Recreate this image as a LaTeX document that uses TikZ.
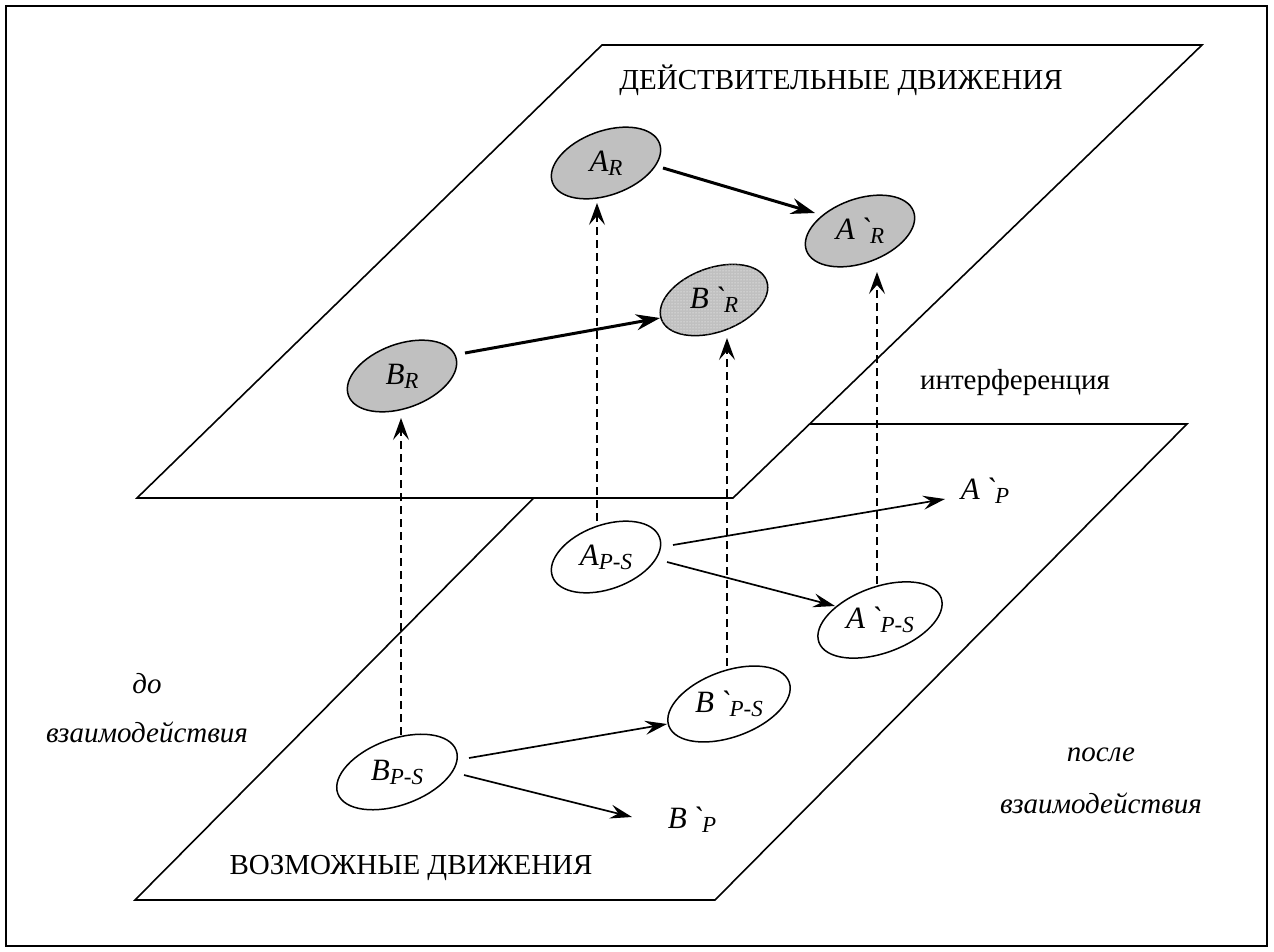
\documentclass[tikz,border=0pt]{standalone}
\usepackage{fontspec}
\setmainfont{Liberation Serif}
\newfontfamily\lblfont{Liberation Serif}
\usetikzlibrary{arrows.meta,shapes.geometric,patterns}
\definecolor{silver}{RGB}{192,192,192}
\newcommand{\grv}{\char"60}
\newcommand{\sbs}[1]{\raisebox{-4pt}{\fontsize{23}{23}\selectfont #1}}
\begin{document}
\begin{tikzpicture}[x=1pt,y=-1pt,
  plane/.style={draw, line width=1.6pt, fill=white, line join=miter},
  ell/.style={ellipse, draw, line width=1.5pt, rotate=20, inner sep=0pt, minimum width=114pt, minimum height=64pt, fill=white},
  real/.style={ell, fill=silver},
  lab/.style={font=\fontsize{31}{31}\selectfont\lblfont\itshape, inner sep=0pt},
  big/.style={font=\fontsize{29}{29}\selectfont, inner sep=0pt},
  itl/.style={font=\fontsize{29}{29}\selectfont\itshape, inner sep=0pt},
  tarrow/.style={line width=3pt, -{Stealth[length=24pt,width=16pt,inset=8pt]}},
  narrow/.style={line width=1.7pt, -{Stealth[length=22pt,width=14pt,inset=8pt]}},
  darrow/.style={line width=1.2pt, dash pattern=on 8pt off 5pt, -{Stealth[length=22pt,width=16pt,inset=9pt]}}
]
\useasboundingbox (0,0) rectangle (1274,952);
\draw[line width=2pt] (6,6) rectangle (1267,946);

% planes
\draw[plane] (607,424) -- (1187,424) -- (715,900) -- (135,900) -- cycle;
\draw[plane] (602,45) -- (1202,45) -- (733,498) -- (137,498) -- cycle;

% texts
\node[big] (t1) at (841,80) {ДЕЙСТВИТЕЛЬНЫЕ ДВИЖЕНИЯ};
\node[big] (t2) at (411,868) {ВОЗМОЖНЫЕ ДВИЖЕНИЯ};
\node[big] (t3) at (1015,383) {интерференция};
\node[itl] (t4) at (147,684) {до};
\node[itl] (t5) at (147,732) {взаимодействия};
\node[itl] (t6) at (1101,755) {после};
\node[itl] (t7) at (1101,803) {взаимодействия};

% real motions
\node[real] (AR) at (606,163) {};
\node[real] (AR2) at (860,231) {};
\node[real, minimum width=112pt, postaction={pattern=dots, pattern color=white}] (BR2) at (714,300) {};
\node[real] (BR) at (402,376) {};
\node[lab] (ARl) at (AR) {A\sbs{R}};
\node[lab] (AR2l) at (AR2) {A\,\grv\sbs{R}};
\node[lab] (BR2l) at (BR2) {B\,\grv\sbs{R}};
\node[lab] (BRl) at (BR) {B\sbs{R}};

% possible motions
\node[ell] (APS) at (606,557) {};
\node[ell, minimum width=130pt, minimum height=66pt] (APS2) at (880,620) {};
\node[ell, minimum width=126pt, minimum height=66pt] (BPS) at (397,772) {};
\node[ell, minimum width=128pt, minimum height=66pt] (BPS2) at (729,704) {};
\node[lab] (APSl) at (APS) {A\sbs{P-S}};
\node[lab] (APS2l) at (APS2) {A\,\grv\sbs{P-S}};
\node[lab] (BPSl) at (BPS) {B\sbs{P-S}};
\node[lab] (BPS2l) at (BPS2) {B\,\grv\sbs{P-S}};
\node[lab] (AP2) at (985,491) {A\,\grv\sbs{P}};
\node[lab] (BP2) at (692,820) {B\,\grv\sbs{P}};

% connectors
\draw[tarrow] ([shift={(57,5)}]AR.center) -- ([shift={(-45,-18)}]AR2.center);
\draw[tarrow] ([shift={(63,-23)}]BR.center) -- ([shift={(-54,18)}]BR2.center);
\draw[narrow] ([shift={(67,-12)}]APS.center) -- ([shift={(-40,8)}]AP2.center);
\draw[narrow] ([shift={(61,5)}]APS.center) -- ([shift={(-45,-14)}]APS2.center);
\draw[narrow] ([shift={(72,-14)}]BPS.center) -- ([shift={(-62,20)}]BPS2.center);
\draw[narrow] ([shift={(67,3)}]BPS.center) -- ([shift={(-60,-3)}]BP2.center);

\draw[darrow] ([shift={(4,-37)}]BPS.center) -- ([shift={(-1,42)}]BR.center);
\draw[darrow] ([shift={(-9,-36)}]APS.center) -- ([shift={(-9,40)}]AR.center);
\draw[darrow] ([shift={(-2,-38)}]BPS2.center) -- ([shift={(13,38)}]BR2.center);
\draw[darrow] ([shift={(-3,-36)}]APS2.center) -- ([shift={(17,41)}]AR2.center);
\end{tikzpicture}
\end{document}
